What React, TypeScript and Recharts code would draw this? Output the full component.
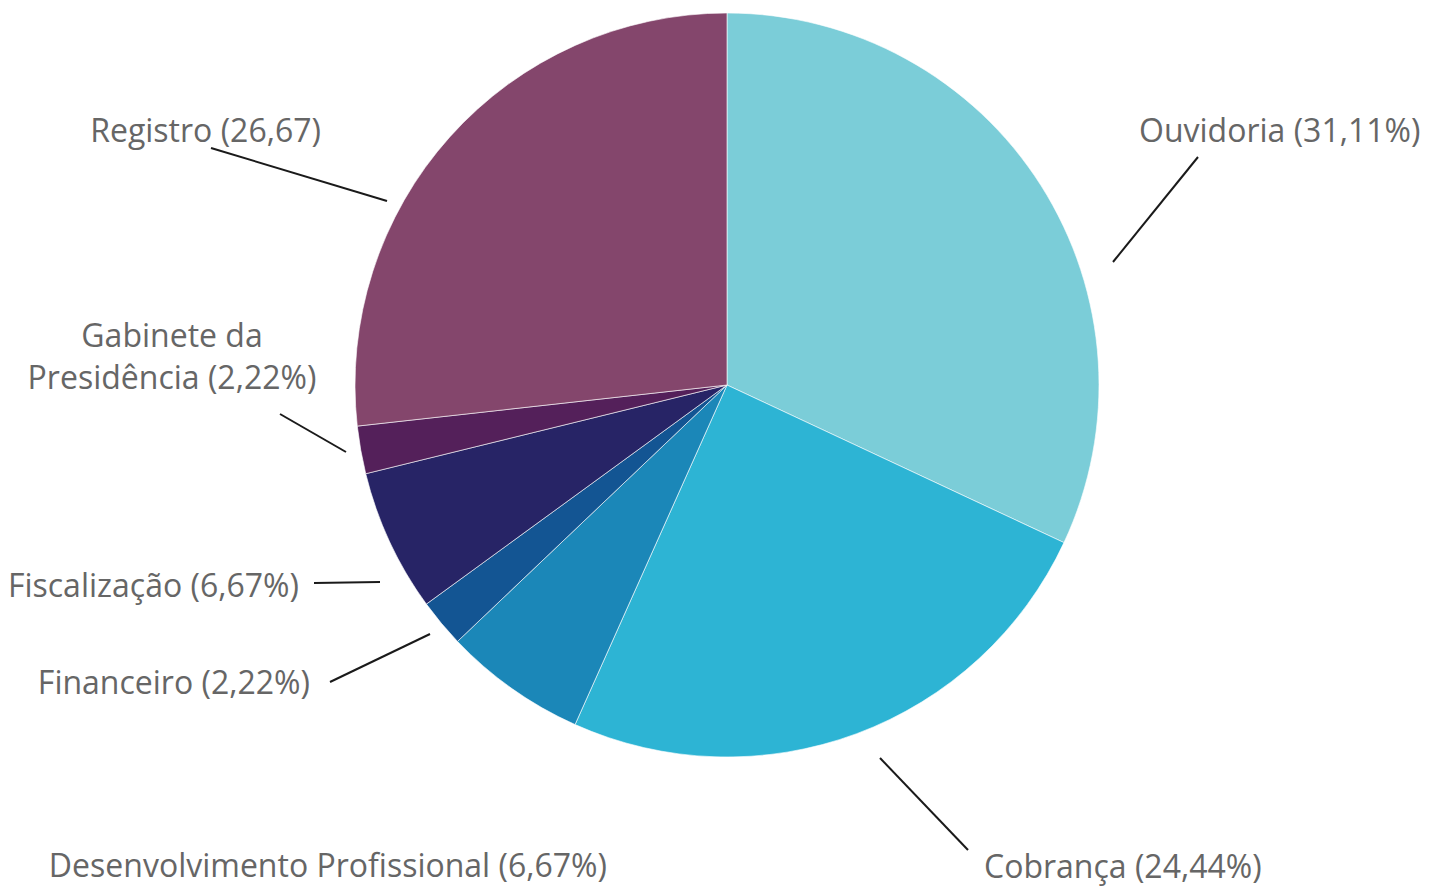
import { PieChart, Pie, Cell } from "recharts"

const categories = [
  "Ouvidoria",
  "Cobrança",
  "Desenvolvimento Profissional",
  "Financeiro",
  "Fiscalização",
  "Gabinete da Presidência",
  "Registro",
]
// tamanho das fatias como aparecem no desenho
const sliceValues = [31.96, 24.73, 6.2, 2.08, 6.19, 2.07, 26.76]
const labelTexts = [
  ["Ouvidoria (31,11%)"],
  ["Cobrança (24,44%)"],
  ["Desenvolvimento Profissional (6,67%)"],
  ["Financeiro (2,22%)"],
  ["Fiscalização (6,67%)"],
  ["Gabinete da", "Presidência (2,22%)"],
  ["Registro (26,67)"],
]
const colors = ["#7bcdd8", "#2db4d4", "#1b87b8", "#135593", "#272466", "#54205a", "#84466c"]

// posição dos rótulos relativa ao centro da pizza (y = linha de base)
const labelLayout = [
  { line: [386, -123, 471, -228], x: 412, y: -243, anchor: "start" },
  { line: [153, 373, 241, 465], x: 257, y: 493, anchor: "start" },
  { line: null, x: -120, y: 492, anchor: "end" },
  { line: [-297, 249, -397, 297], x: -417, y: 309, anchor: "end" },
  { line: [-347, 197, -413, 198], x: -428, y: 212, anchor: "end" },
  { line: [-381, 67, -447, 29], x: -555, y: -38, anchor: "middle" },
  { line: [-340, -184, -516, -237], x: -406, y: -243, anchor: "end" },
]

const data = categories.map((name, i) => ({ name, value: sliceValues[i] }))

const renderLabel = (props: any) => {
  const { cx, cy, index } = props
  const l = labelLayout[index]
  const lines = labelTexts[index]
  return (
    <g key={`lbl-${index}`}>
      {l.line && (
        <line
          x1={cx + l.line[0]}
          y1={cy + l.line[1]}
          x2={cx + l.line[2]}
          y2={cy + l.line[3]}
          stroke="#1a1a1a"
          strokeWidth={2}
        />
      )}
      <text
        x={cx + l.x}
        y={cy + l.y}
        textAnchor={l.anchor}
        fill="#666666"
        fontSize={32}
        fontFamily="'Open Sans', sans-serif"
      >
        {lines.map((t, k) => (
          <tspan key={k} x={cx + l.x} dy={k === 0 ? 0 : 42}>
            {t}
          </tspan>
        ))}
      </text>
    </g>
  )
}

export default function App() {
  return (
    <div style={{ position: "absolute", left: 0, top: 0, width: 1436, height: 887, background: "#fff" }}>
      <PieChart width={1436} height={887} margin={{ top: 0, right: 0, bottom: 0, left: 0 }}>
        <Pie
          data={data}
          dataKey="value"
          cx={727}
          cy={385}
          outerRadius={372}
          startAngle={90}
          endAngle={-270}
          stroke="#ffffff"
          strokeWidth={0.6}
          label={renderLabel}
          labelLine={false}
          isAnimationActive={false}
        >
          {data.map((entry, index) => (
            <Cell key={`cell-${index}`} fill={colors[index]} />
          ))}
        </Pie>
      </PieChart>
    </div>
  )
}
